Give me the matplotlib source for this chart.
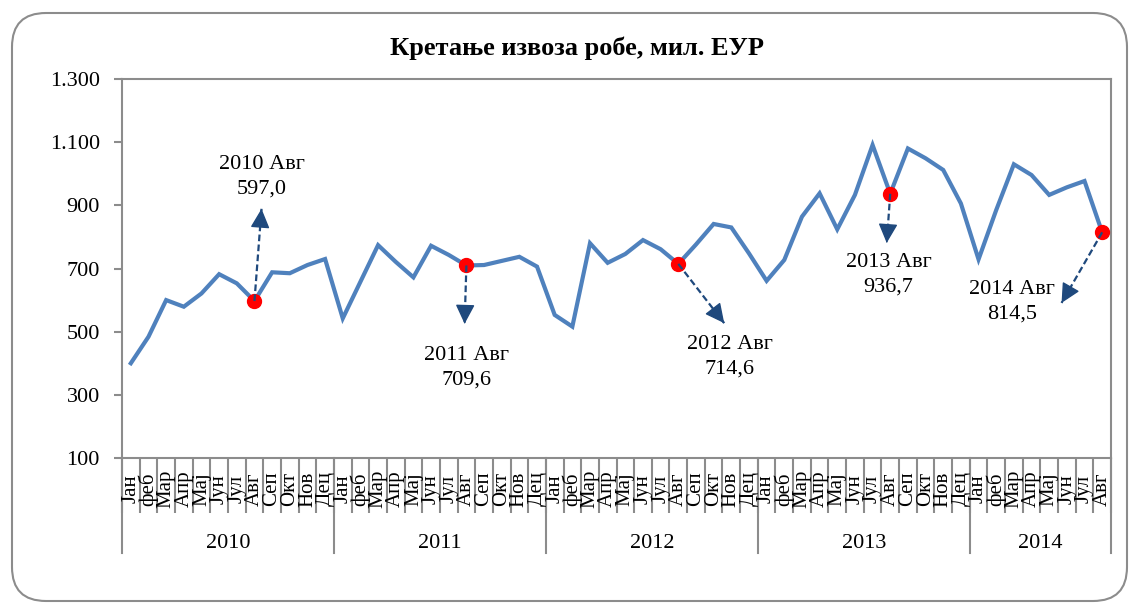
import numpy as np
import matplotlib.pyplot as plt
import matplotlib.transforms as mtransforms
from matplotlib.patches import FancyBboxPatch

plt.rcParams['font.family'] = ['Liberation Serif', 'DejaVu Serif']

# data
months = ['Јан', 'феб', 'Мар', 'Апр', 'Мај', 'Јун', 'Јул', 'Авг', 'Сеп', 'Окт', 'Нов', 'Дец']
years = ['2010', '2011', '2012', '2013', '2014']
months_per_year = [12, 12, 12, 12, 8]
izvoz = [400, 484, 600, 579, 621, 682, 653, 597.0, 688, 685, 711, 730,
         542, 658, 774, 721, 672, 772, 743, 709.6, 711, 724, 737, 706,
         553, 516, 780, 718, 746, 790, 761, 714.6, 776, 841, 830, 748,
         661, 727, 864, 938, 824, 933, 1091, 936.7, 1080, 1049, 1012, 906,
         729, 885, 1030, 996, 933, 957, 977, 814.5]
istaknuto = [7, 19, 31, 43, 55]
natpisi = ['2010 Авг\n597,0', '2011 Авг\n709,6', '2012 Авг\n714,6',
           '2013 Авг\n936,7', '2014 Авг\n814,5']
# arrow ends and label positions (data units)
strelice = [(7.9, 889), (19.4, 525), (34.1, 527), (43.3, 781), (53.2, 591)]
tekst = [(7.9, 990), (19.5, 385), (34.4, 420), (43.4, 680), (50.4, 594)]

n = len(izvoz)
x = np.arange(n) + 0.5

fig = plt.figure(figsize=(11.32, 6.05), dpi=100)
W, H = 1132, 605
ax = fig.add_axes([122 / W, 1 - 458 / H, (1111 - 122) / W, (458 - 79) / H])

okvir = FancyBboxPatch((12 / W, 4 / H), 1115 / W, 588 / H,
                       boxstyle='round,pad=0,rounding_size=0.03',
                       transform=fig.transFigure, fill=False,
                       edgecolor='#8c8c8c', lw=1.5, mutation_aspect=W / H)
fig.patches.append(okvir)

ax.plot(x, izvoz, color='#4F81BD', lw=3, solid_joinstyle='miter', zorder=3)
ax.plot(x[istaknuto], np.array(izvoz)[istaknuto], 'o', color='#FF0000', ms=10, zorder=4)

for i, (sx, sy), (tx, ty), t in zip(istaknuto, strelice, tekst, natpisi):
    x0, y0 = x[i], izvoz[i]
    # dashed stem
    ax.plot([x0, sx], [y0, sy], color='#1F497D', lw=1.6, ls=(0, (3, 1.5)), zorder=5)
    # solid head
    ax.annotate('', xy=(sx, sy), xytext=(sx - 0.02 * (sx - x0), sy - 0.02 * (sy - y0)),
                arrowprops=dict(arrowstyle='-|>,head_length=0.6,head_width=0.3',
                                color='#1F497D', lw=1, mutation_scale=20,
                                shrinkA=0, shrinkB=0), zorder=5)
    ax.text(tx, ty, t, ha='center', va='center', fontsize=16, linespacing=1.4)

ax.set_xlim(0, n)
ax.set_ylim(100, 1300)
ax.set_yticks(range(100, 1301, 200))
ax.set_yticklabels([f'{v:,}'.replace(',', '.') for v in range(100, 1301, 200)], fontsize=16)
ax.tick_params(axis='y', length=6, width=1.5, color='#8c8c8c', pad=10)
ax.set_xticks(np.arange(n + 1))
ax.set_xticklabels([])
ax.tick_params(axis='x', length=55 * 0.72, width=1.5, color='#8c8c8c')
for s in ax.spines.values():
    s.set_color('#8c8c8c')
    s.set_linewidth(1.5)

trans = mtransforms.blended_transform_factory(ax.transData, fig.transFigure)
k = 0
for god, m in zip(years, months_per_year):
    for j in range(m):
        ax.text(k + j + 0.5, 1 - 489 / H, months[j], rotation=90, ha='center', va='center',
                fontsize=15, transform=trans)
    ax.text(k + m / 2, 1 - 543 / H, god, ha='center', va='center', fontsize=16, transform=trans)
    k += m
granice = np.concatenate([[0], np.cumsum(months_per_year)])
for g in granice:
    ax.plot([g, g], [1 - 458 / H, 1 - 553 / H], color='#8c8c8c', lw=1.5,
            transform=trans, clip_on=False)

fig.text(577 / W, 1 - 48 / H, 'Кретање извоза робе, мил. ЕУР', ha='center', va='center',
         fontsize=19, fontweight='bold')

fig.savefig('out.png', dpi=100)
